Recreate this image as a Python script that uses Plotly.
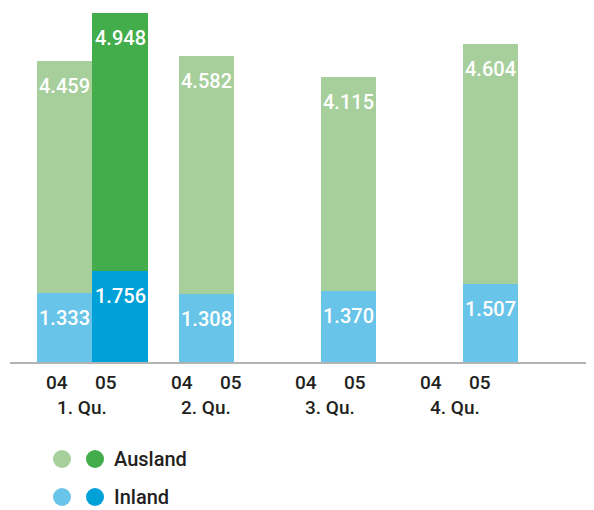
import plotly.graph_objects as go

QUARTERS = ["1. Qu.", "2. Qu.", "3. Qu.", "4. Qu."]
YEARS = ["04", "05"]
INLAND_04 = [1.333, 1.308, 1.370, 1.507]
AUSLAND_04 = [4.459, 4.582, 4.115, 4.604]
INLAND_05 = [1.756, None, None, None]
AUSLAND_05 = [4.948, None, None, None]

C_AUS_04 = "#a6cf9b"
C_AUS_05 = "#42ad4a"
C_INL_04 = "#68c4e8"
C_INL_05 = "#00a0d9"
TXT = "#231f20"
FONT = "Roboto"

OFF = 8  # default body margin of the page
W, H = 594 - OFF, 510 - OFF
ML = 10 - OFF
PH = 362 - OFF
MB = H - PH
PW = W - ML
PX_PER_UNIT = 52.0
GROUP_PX = 142.0
BAR_PX = 55.5
FIRST_CENTER_PX = 64.5  # centre of first bar, page px

bw = BAR_PX / GROUP_PX
x04 = [i for i in range(len(QUARTERS))]
x05 = [i + bw for i in range(len(QUARTERS))]
x_lo = (10 - FIRST_CENTER_PX) / GROUP_PX
x_hi = x_lo + PW / GROUP_PX
y_hi = PH / PX_PER_UNIT

fig = go.Figure()
for xs, vals, col in [(x04, INLAND_04, C_INL_04), (x05, INLAND_05, C_INL_05)]:
    fig.add_bar(x=xs, y=vals, width=bw, marker=dict(color=col, line=dict(width=0)), hoverinfo="skip")
for xs, vals, col in [(x04, AUSLAND_04, C_AUS_04), (x05, AUSLAND_05, C_AUS_05)]:
    fig.add_bar(x=xs, y=vals, width=bw, marker=dict(color=col, line=dict(width=0)), hoverinfo="skip")

ann = []
for xs, inl, aus in [(x04, INLAND_04, AUSLAND_04), (x05, INLAND_05, AUSLAND_05)]:
    for x, a, b in zip(xs, inl, aus):
        if a is None:
            continue
        for top, v in [(a, a), (a + b, b)]:
            ann.append(dict(x=x, y=top, xref="x", yref="y", yshift=-25, yanchor="middle",
                            xanchor="center", text=f"{v:.3f}", showarrow=False,
                            font=dict(family=FONT, size=20, color="white", weight=500)))

def px2paper(px):
    return (px - 10) / PW

def py2paper(py):
    return (362 - py) / PH

for i, q in enumerate(QUARTERS):
    c = 81.5 + 124.5 * i
    for j, yr in enumerate(YEARS):
        ann.append(dict(x=px2paper(c + (-24.5 if j == 0 else 24.5)), y=0, xref="paper", yref="y",
                        yshift=-20.5, yanchor="middle", xanchor="center", text=yr, showarrow=False,
                        font=dict(family=FONT, size=19, color=TXT, weight=500)))
    ann.append(dict(x=px2paper(c), y=0, xref="paper", yref="y", yshift=-45.5, yanchor="middle",
                    xanchor="center", text=q, showarrow=False,
                    font=dict(family=FONT, size=19, color=TXT, weight=500)))

shapes = []
LEGEND = [("Ausland", C_AUS_04, C_AUS_05, 459), ("Inland", C_INL_04, C_INL_05, 497)]
for name, c1, c2, ypx in LEGEND:
    for cx, col in [(62, c1), (95, c2)]:
        shapes.append(dict(type="circle", xref="paper", yref="paper", xsizemode="pixel", ysizemode="pixel",
                           xanchor=px2paper(cx), yanchor=py2paper(ypx), x0=-9, x1=9, y0=-9, y1=9,
                           fillcolor=col, line=dict(width=0)))
    ann.append(dict(x=px2paper(112), y=py2paper(ypx), xref="paper", yref="paper", xanchor="left",
                    yanchor="middle", text=name, showarrow=False,
                    font=dict(family=FONT, size=20, color=TXT, weight=500)))

fig.update_layout(
    width=W, height=H, barmode="stack", bargap=0, showlegend=False,
    margin=dict(l=ML, r=0, t=0, b=MB, pad=0),
    paper_bgcolor="white", plot_bgcolor="white",
    xaxis=dict(range=[x_lo, x_hi], showline=True, linecolor="#b3b3b3", linewidth=2,
               showticklabels=False, ticks="", showgrid=False, zeroline=False),
    yaxis=dict(range=[0, y_hi], visible=False, showgrid=False, zeroline=False),
    annotations=ann, shapes=shapes,
)
fig.write_html("out.html")
